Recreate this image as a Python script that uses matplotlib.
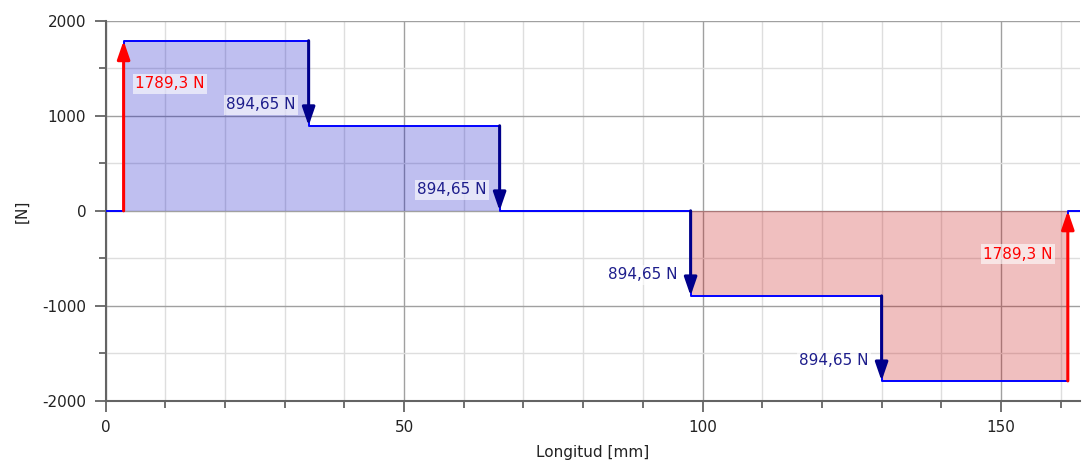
import matplotlib
matplotlib.use('Agg')

import matplotlib.pyplot as plt
import numpy as np
from matplotlib.ticker import MultipleLocator

# Cargas sobre el eje (posicion en mm, fuerza en N)
load_pos = [3, 34, 66, 98, 130, 161.2]
load_val = [1789.3, -894.65, -894.65, -894.65, -894.65, 1789.3]
x_end = 163.2

plt.rcParams['font.family'] = ['DejaVu Sans']
plt.rcParams['font.size'] = 11
plt.rcParams['axes.unicode_minus'] = False

fig = plt.figure(figsize=(10.83, 4.63), dpi=100)
ax = fig.add_axes([0.0976, 0.134, 0.8994, 0.8213])

# Diagrama de cortante (escalonado)
xs = [0] + load_pos + [x_end]
shear = [0] + list(np.cumsum(load_val)) + [0]
shear[-2] = 0.0
ax.step(xs, shear, where='post', color='#0000ff', lw=1.4, zorder=3)

for i in range(len(xs) - 1):
    v = shear[i]
    if v > 0:
        ax.fill_between([xs[i], xs[i + 1]], 0, v, color=(0, 0, 0.78), alpha=0.25, lw=0, zorder=2)
    elif v < 0:
        ax.fill_between([xs[i], xs[i + 1]], 0, v, color=(0.78, 0, 0), alpha=0.25, lw=0, zorder=2)

# Flechas y etiquetas
box = dict(boxstyle='square,pad=0.15', fc='white', ec='none', alpha=0.6)
start = 0.0
for x, f in zip(load_pos, load_val):
    end = start + f
    if abs(end) < 1e-6:
        end = 0.0
    col = '#ff0000' if f > 0 else '#00008b'
    ax.annotate('', xy=(x, end), xytext=(x, start),
                arrowprops=dict(arrowstyle='-|>,head_length=0.55,head_width=0.19',
                                color=col, lw=2.2, shrinkA=0, shrinkB=0,
                                mutation_scale=20), zorder=5)
    txt = f'{abs(f):g} N'.replace('.', ',')
    if f > 0:
        ty = end - 455
        if x < 80:
            ax.text(x + 1.9, ty, txt, color=col, ha='left', va='center', bbox=box, zorder=6)
        else:
            ax.text(x - 2.5, ty, txt, color=col, ha='right', va='center', bbox=box, zorder=6)
    else:
        ax.text(x - 2.2, end + 220, txt, color='#1e1e8c', ha='right', va='center', bbox=box, zorder=6)
    start = end

ax.set_xlim(0, x_end)
ax.set_ylim(-2000, 2000)
ax.xaxis.set_major_locator(MultipleLocator(50))
ax.xaxis.set_minor_locator(MultipleLocator(10))
ax.yaxis.set_major_locator(MultipleLocator(1000))
ax.yaxis.set_minor_locator(MultipleLocator(500))

ax.grid(True, which='major', color='#a0a0a0', lw=1.0, zorder=0)
ax.grid(True, which='minor', color='#dedede', lw=1.0, zorder=0)
ax.set_axisbelow(True)

for s in ['top', 'right']:
    ax.spines[s].set_visible(False)
for s in ['left', 'bottom']:
    ax.spines[s].set_color('#646464')
    ax.spines[s].set_linewidth(1.5)

ax.tick_params(which='major', length=8, width=1.3, color='#646464', labelcolor='#222222', labelsize=11)
ax.tick_params(which='minor', length=5, width=1.3, color='#646464')
ax.tick_params(axis='x', pad=6)
ax.tick_params(axis='y', pad=6)

ax.set_xlabel('Longitud [mm]', fontsize=11, color='#222222', labelpad=7)
ax.set_ylabel('[N]', fontsize=11, color='#222222', labelpad=9)

plt.savefig('out.png', dpi=100)
plt.close()
